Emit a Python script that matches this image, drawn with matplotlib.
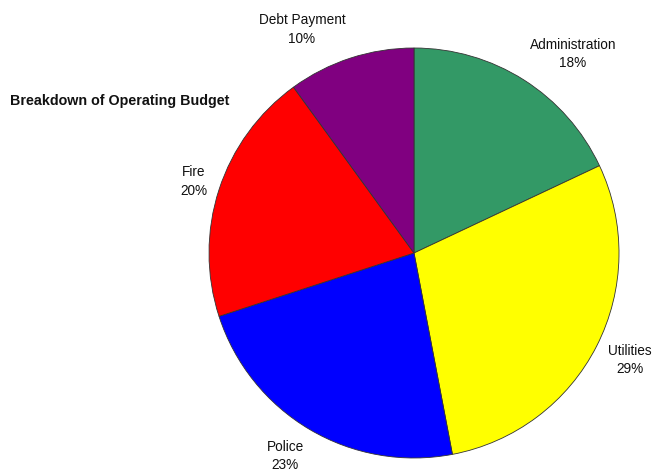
import matplotlib
matplotlib.use("Agg")
import matplotlib.pyplot as plt
import numpy as np

categories = ["Administration", "Utilities", "Police", "Fire", "Debt Payment"]
values = [18, 29, 23, 20, 10]
colors = ["#339966", "#FFFF00", "#0000FF", "#FF0000", "#800080"]
title = "Breakdown of Operating Budget"

plt.rcParams['font.family'] = ['Liberation Sans', 'DejaVu Sans']

W, H = 658, 473
fig = plt.figure(figsize=(W / 100, H / 100), dpi=100)
cx, cy, r = 414, 253, 205
ax = fig.add_axes([(cx - r) / W, (H - cy - r) / H, 2 * r / W, 2 * r / H])
wedges, _ = ax.pie(values, colors=colors, startangle=90, counterclock=False,
                   radius=1.0, wedgeprops=dict(edgecolor="#333333", linewidth=0.6))
ax.set_xlim(-1, 1)
ax.set_ylim(-1, 1)
ax.set_aspect("equal")
ax.axis("off")

total = sum(values)
# label placement (distance in radii, angular shift in degrees)
dists = [1.243, 1.176, 1.173, 1.13, 1.22]
shifts = [-6.2, 0.7, -1.8, 0.0, 8.6]
for w, cat, v, d, s in zip(wedges, categories, values, dists, shifts):
    ang = np.deg2rad((w.theta1 + w.theta2) / 2 + s)
    x, y = d * np.cos(ang), d * np.sin(ang)
    ax.text(x, y, f"{cat}\n{round(100 * v / total)}%", ha="center", va="center",
            fontsize=9.8, linespacing=1.42, color="#111111")

fig.text(10 / W, 1 - 101 / H, title, ha="left", va="center", fontsize=10.3,
         fontweight="bold", color="#111111")

fig.savefig("out.png", dpi=100)
